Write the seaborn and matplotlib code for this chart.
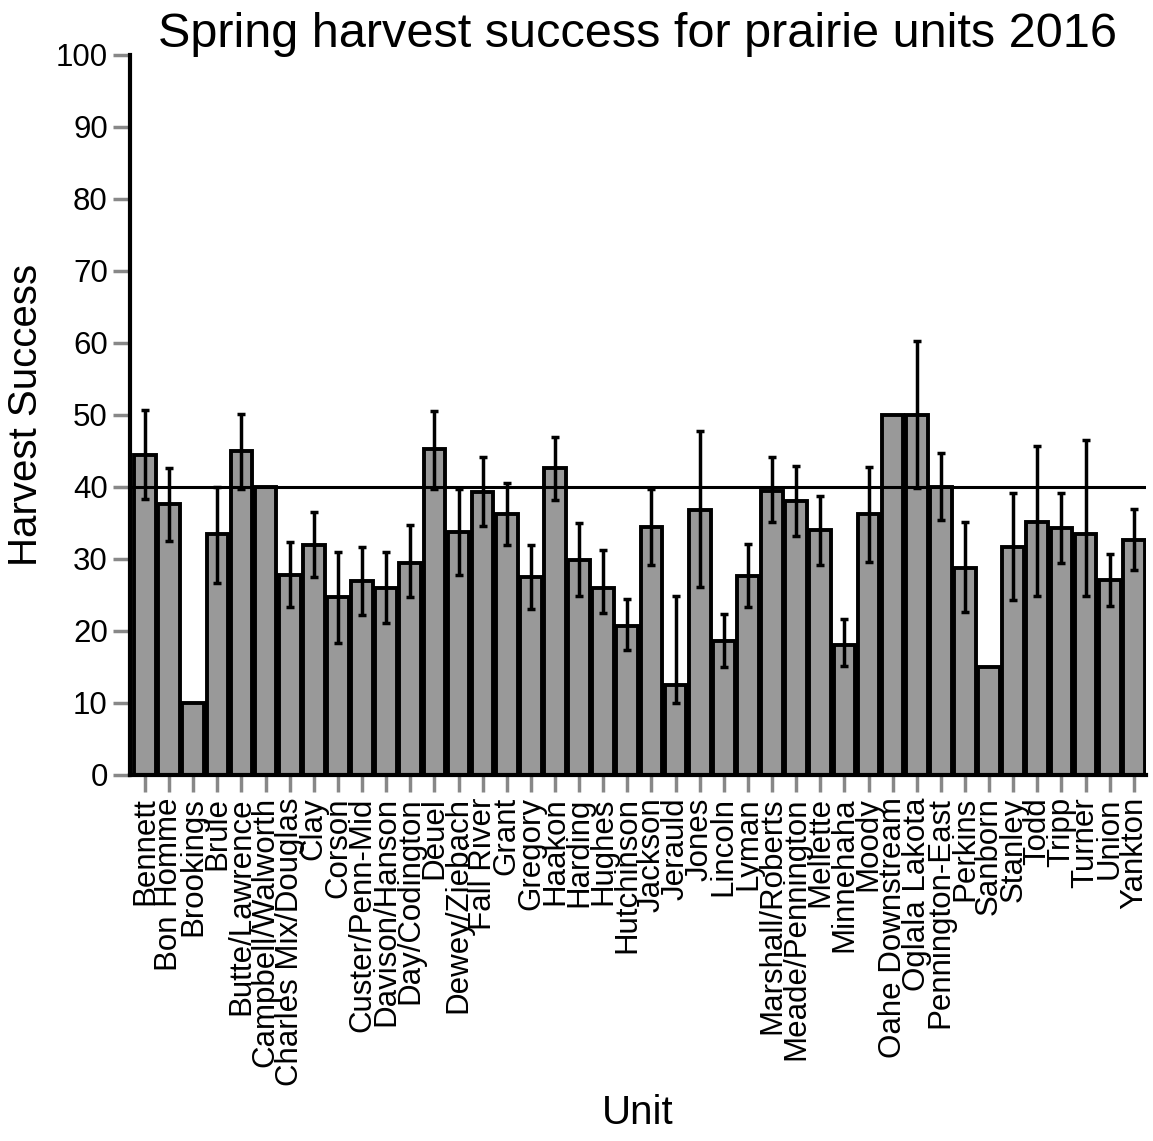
import numpy as np
import pandas as pd
import seaborn as sns
import matplotlib.pyplot as plt

units = ['Bennett', 'Bon Homme', 'Brookings', 'Brule', 'Butte/Lawrence',
         'Campbell/Walworth', 'Charles Mix/Douglas', 'Clay', 'Corson',
         'Custer/Penn-Mid', 'Davison/Hanson', 'Day/Codington', 'Deuel',
         'Dewey/Ziebach', 'Fall River', 'Grant', 'Gregory', 'Haakon',
         'Harding', 'Hughes', 'Hutchinson', 'Jackson', 'Jerauld', 'Jones',
         'Lincoln', 'Lyman', 'Marshall/Roberts', 'Meade/Pennington',
         'Mellette', 'Minnehaha', 'Moody', 'Oahe Downstream',
         'Oglala Lakota', 'Pennington-East', 'Perkins', 'Sanborn',
         'Stanley', 'Todd', 'Tripp', 'Turner', 'Union', 'Yankton']

success = [44.4, 37.6, 10.0, 33.5, 45.0, 40.0, 27.8, 31.9, 24.7, 27.0,
           26.0, 29.5, 45.3, 33.8, 39.3, 36.3, 27.5, 42.7, 29.9, 25.9,
           20.7, 34.4, 12.5, 36.8, 18.6, 27.6, 39.5, 38.1, 34.0, 18.0,
           36.3, 50.0, 50.0, 40.0, 28.8, 15.0, 31.7, 35.1, 34.3, 33.4,
           27.1, 32.6]

ci_low = [38.3, 32.5, np.nan, 26.6, 39.7, np.nan, 23.3, 27.5, 18.3, 22.2,
          21.1, 24.7, 39.7, 27.8, 34.6, 31.9, 23.1, 38.2, 24.9, 22.5,
          17.4, 29.2, 10.0, 26.1, 15.0, 23.3, 35.1, 33.2, 29.1, 15.2,
          29.6, np.nan, 39.8, 35.4, 22.7, np.nan, 24.3, 24.8, 29.5, 24.9,
          23.4, 28.5]

ci_high = [50.7, 42.7, np.nan, 40.0, 50.1, np.nan, 32.4, 36.5, 31.0, 31.7,
           30.9, 34.7, 50.6, 39.7, 44.1, 40.6, 31.9, 47.0, 35.0, 31.2,
           24.5, 39.7, 24.9, 47.8, 22.4, 32.1, 44.1, 42.9, 38.8, 21.6,
           42.8, np.nan, 60.3, 44.7, 35.1, np.nan, 39.2, 45.7, 39.2, 46.5,
           30.7, 36.9]

target = 40

df = pd.DataFrame({'Unit': units, 'Success': success})

sns.set_style("white")
plt.rcParams['font.family'] = ['Liberation Sans', 'DejaVu Sans']
plt.rcParams['text.color'] = 'black'
plt.rcParams['xtick.color'] = 'black'
plt.rcParams['ytick.color'] = 'black'
plt.rcParams['axes.labelcolor'] = 'black'

fig = plt.figure(figsize=(11.53, 11.41), dpi=100)
ax = fig.add_axes([0.1128, 0.3208, 0.881, 0.631])

sns.barplot(data=df, x='Unit', y='Success', color='#999999', saturation=1,
            width=0.9, edgecolor='black', linewidth=2.8, ax=ax)

succ = np.array(success)
yerr = np.vstack([succ - np.array(ci_low), np.array(ci_high) - succ])
ax.errorbar(np.arange(len(units)), succ, yerr=yerr, fmt='none',
            ecolor='black', elinewidth=2.5, capsize=3, capthick=2.5, zorder=4)

ax.axhline(target, color='black', linewidth=2.2, zorder=5)

ax.set_ylim(0, 100)
ax.set_xlim(-0.62, len(units) - 0.5)
ax.set_yticks(range(0, 101, 10))
ax.tick_params(axis='both', bottom=True, left=True, length=12, width=2.5,
               color='#888888', labelsize=22.5, labelcolor='black',
               direction='out')
ax.tick_params(axis='x', labelrotation=90, pad=4)
ax.tick_params(axis='y', pad=4)
for lbl in ax.get_xticklabels():
    lbl.set_verticalalignment('top')

sns.despine(ax=ax)
for s in ['left', 'bottom']:
    ax.spines[s].set_linewidth(3)
    ax.spines[s].set_color('black')

ax.set_title('Spring harvest success for prairie units 2016', fontsize=35,
             pad=6, color='black')
ax.set_xlabel('Unit', fontsize=29, labelpad=6)
ax.set_ylabel('Harvest Success', fontsize=29, labelpad=8)

fig.savefig('out.png', dpi=100)
